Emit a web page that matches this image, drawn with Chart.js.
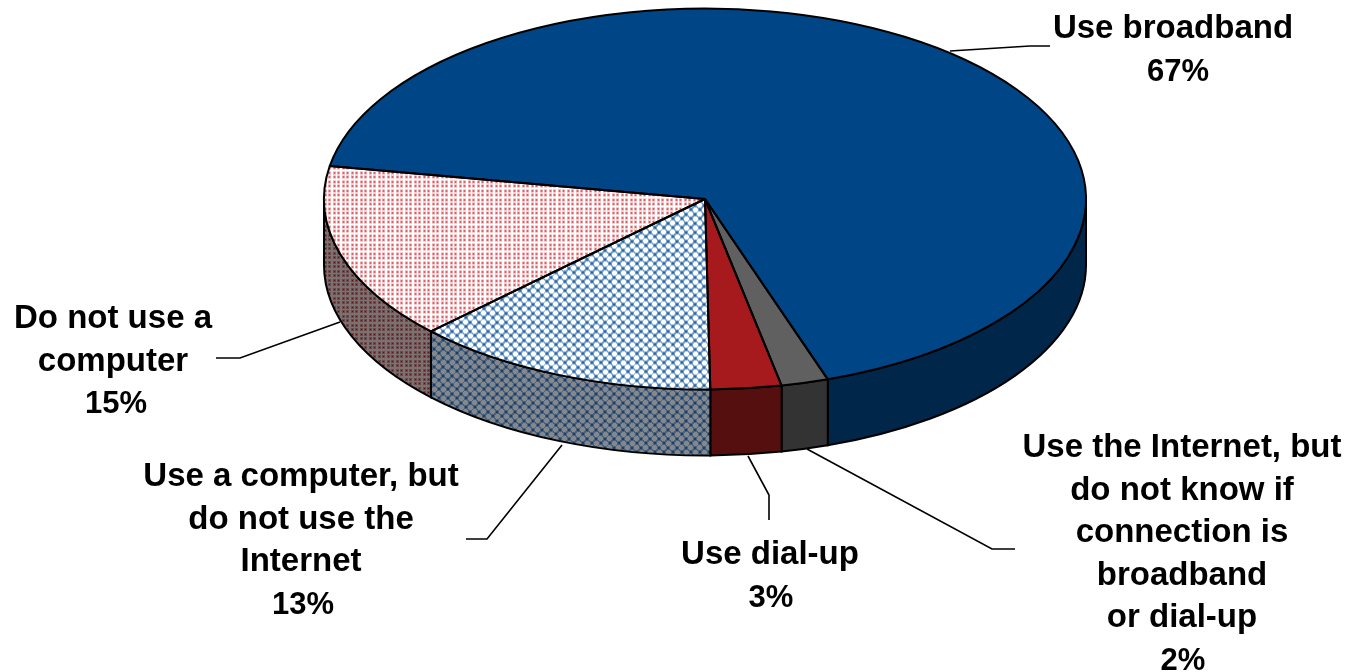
<!DOCTYPE html>
<html>
<head>
<meta charset="utf-8">
<title>Internet use</title>
<script src="https://cdn.jsdelivr.net/npm/chart.js@4"></script>
<style>
html, body { margin: 0; padding: 0; background: #fff; overflow: hidden; }
canvas { display: block; }
</style>
</head>
<body>
<canvas id="pie3d" width="1348" height="672"></canvas>
<script>
// data
var categories = [
    ['Use broadband'],
    ['Use the Internet, but', 'do not know if', 'connection is', 'broadband', 'or dial-up'],
    ['Use dial-up'],
    ['Use a computer, but', 'do not use the', 'Internet'],
    ['Do not use a', 'computer']
];
var shares = [67, 2, 3, 13, 15];

var SQUASH = 0.5;   // flattening of the pie
var DEPTH = 66;     // height of the side wall

function makePattern(size, bg, draw) {
    var c = document.createElement('canvas');
    c.width = size;
    c.height = size;
    var g = c.getContext('2d');
    g.fillStyle = bg;
    g.fillRect(0, 0, size, size);
    draw(g);
    return g.createPattern(c, 'repeat');
}

function dots(bg, halo, core) {
    return makePattern(9, bg, function(g) {
        [[0, 0], [4, 0], [0, 4], [4, 4]].forEach(function(p) {
            g.fillStyle = halo;
            g.fillRect(p[0], p[1], 3, 3);
            g.fillStyle = core;
            g.fillRect(p[0] + 1, p[1] + 1, 1, 1);
        });
    });
}

// staggered light plus signs on a darker ground
function lattice(bg, knot, plus) {
    return makePattern(9, bg, function(g) {
        g.fillStyle = knot;
        g.fillRect(6, 1, 2, 2);
        g.fillRect(1, 6, 2, 2);
        g.fillStyle = plus;
        [[2, 2], [6, 6]].forEach(function(p) {
            g.fillRect(p[0] - 2, p[1] - 1, 5, 3);
            g.fillRect(p[0] - 1, p[1] - 2, 3, 5);
        });
    });
}

var pinkTop = dots('#ffffff', '#e9a2a6', '#c2202c');
var pinkWall = dots('#7d7070', '#6b4a4c', '#5e1216');
var blueTop = lattice('#6f9cc9', '#2a659f', '#ffffff');
var blueWall = lattice('#47617f', '#1c3f66', '#84878b');

// the pie is drawn flat by Chart.js, so the patterns have to undo the squash
[pinkTop, blueTop].forEach(function(p) {
    p.setTransform(new DOMMatrix().scale(1, 1 / SQUASH));
});

var topColors = ['#004586', '#606060', '#a6191c', blueTop, pinkTop];
var wallColors = ['#00264a', '#333333', '#560f0f', blueWall, pinkWall];

// center x and first baseline of every label, center x of its percent, leader line
var labelSpots = [
    { x: 1173, y: 38, pct: 1178, line: [[950, 51], [1030, 46], [1050, 46]] },
    { x: 1182, y: 457, pct: 1183, line: [[807, 449], [992, 549], [1015, 549]] },
    { x: 770, y: 564, pct: 771, line: [[748, 456], [769, 495], [769, 520]] },
    { x: 301, y: 486, pct: 303, line: [[562, 445], [487, 539], [466, 539]] },
    { x: 113, y: 328, pct: 116, line: [[340, 322], [240, 358], [216, 358]] }
];
var LINE_GAP = 42.6;
var TEXT_FONT = 'bold 33px "Liberation Sans", Arial, sans-serif';
var PCT_FONT = 'bold 31px "Liberation Sans", Arial, sans-serif';

function wallPath(ctx, a, from, to) {
    var rx = a.outerRadius, ry = a.outerRadius * SQUASH;
    ctx.beginPath();
    ctx.ellipse(a.x, a.y, rx, ry, 0, from, to);
    ctx.ellipse(a.x, a.y + DEPTH, rx, ry, 0, to, from, true);
    ctx.closePath();
}

var pie3d = {
    id: 'pie3d',
    beforeDatasetsDraw: function(chart) {
        var ctx = chart.ctx;
        var arcs = chart.getDatasetMeta(0).data;
        ctx.save();
        ctx.lineWidth = 2;
        ctx.strokeStyle = '#000';
        arcs.forEach(function(a, i) {
            // only the front half of the rim shows
            var from = a.startAngle, to = a.endAngle;
            [0, Math.PI * 2].forEach(function(turn) {
                var s = Math.max(from, turn), e = Math.min(to, turn + Math.PI);
                if (e <= s) return;
                wallPath(ctx, a, s, e);
                ctx.fillStyle = wallColors[i];
                ctx.fill();
                ctx.stroke();
            });
        });
        ctx.restore();
        // flatten the slices around the pie center
        var c = arcs[0];
        ctx.save();
        ctx.translate(0, c.y);
        ctx.scale(1, SQUASH);
        ctx.translate(0, -c.y);
    },
    afterDatasetsDraw: function(chart) {
        var ctx = chart.ctx;
        ctx.restore();
        ctx.save();
        ctx.lineWidth = 2;
        ctx.strokeStyle = '#000';
        ctx.lineJoin = 'round';
        chart.getDatasetMeta(0).data.forEach(function(a) {
            ctx.beginPath();
            ctx.moveTo(a.x, a.y);
            ctx.ellipse(a.x, a.y, a.outerRadius, a.outerRadius * SQUASH, 0, a.startAngle, a.endAngle);
            ctx.closePath();
            ctx.stroke();
        });
        ctx.restore();
    },
    afterDraw: function(chart) {
        var ctx = chart.ctx;
        ctx.save();
        ctx.fillStyle = '#000';
        ctx.strokeStyle = '#000';
        ctx.lineWidth = 1.6;
        ctx.textAlign = 'center';
        categories.forEach(function(lines, i) {
            var spot = labelSpots[i];
            ctx.beginPath();
            spot.line.forEach(function(p, k) {
                if (k === 0) ctx.moveTo(p[0], p[1]);
                else ctx.lineTo(p[0], p[1]);
            });
            ctx.stroke();
            ctx.font = TEXT_FONT;
            lines.forEach(function(t, k) {
                ctx.fillText(t, spot.x, spot.y + k * LINE_GAP);
            });
            ctx.font = PCT_FONT;
            ctx.fillText(shares[i] + '%', spot.pct, spot.y + lines.length * LINE_GAP);
        });
        ctx.restore();
    }
};

new Chart(document.getElementById('pie3d').getContext('2d'), {
    type: 'pie',
    data: {
        labels: categories.map(function(c) { return c.join(' '); }),
        datasets: [{
            data: shares,
            backgroundColor: topColors,
            borderWidth: 0,
            hoverOffset: 0
        }]
    },
    options: {
        responsive: false,
        animation: false,
        events: [],
        rotation: -80,
        radius: 381,
        layout: { padding: { left: 62, bottom: 274 } },
        plugins: {
            legend: { display: false },
            tooltip: { enabled: false }
        }
    },
    plugins: [pie3d]
});
</script>
</body>
</html>
